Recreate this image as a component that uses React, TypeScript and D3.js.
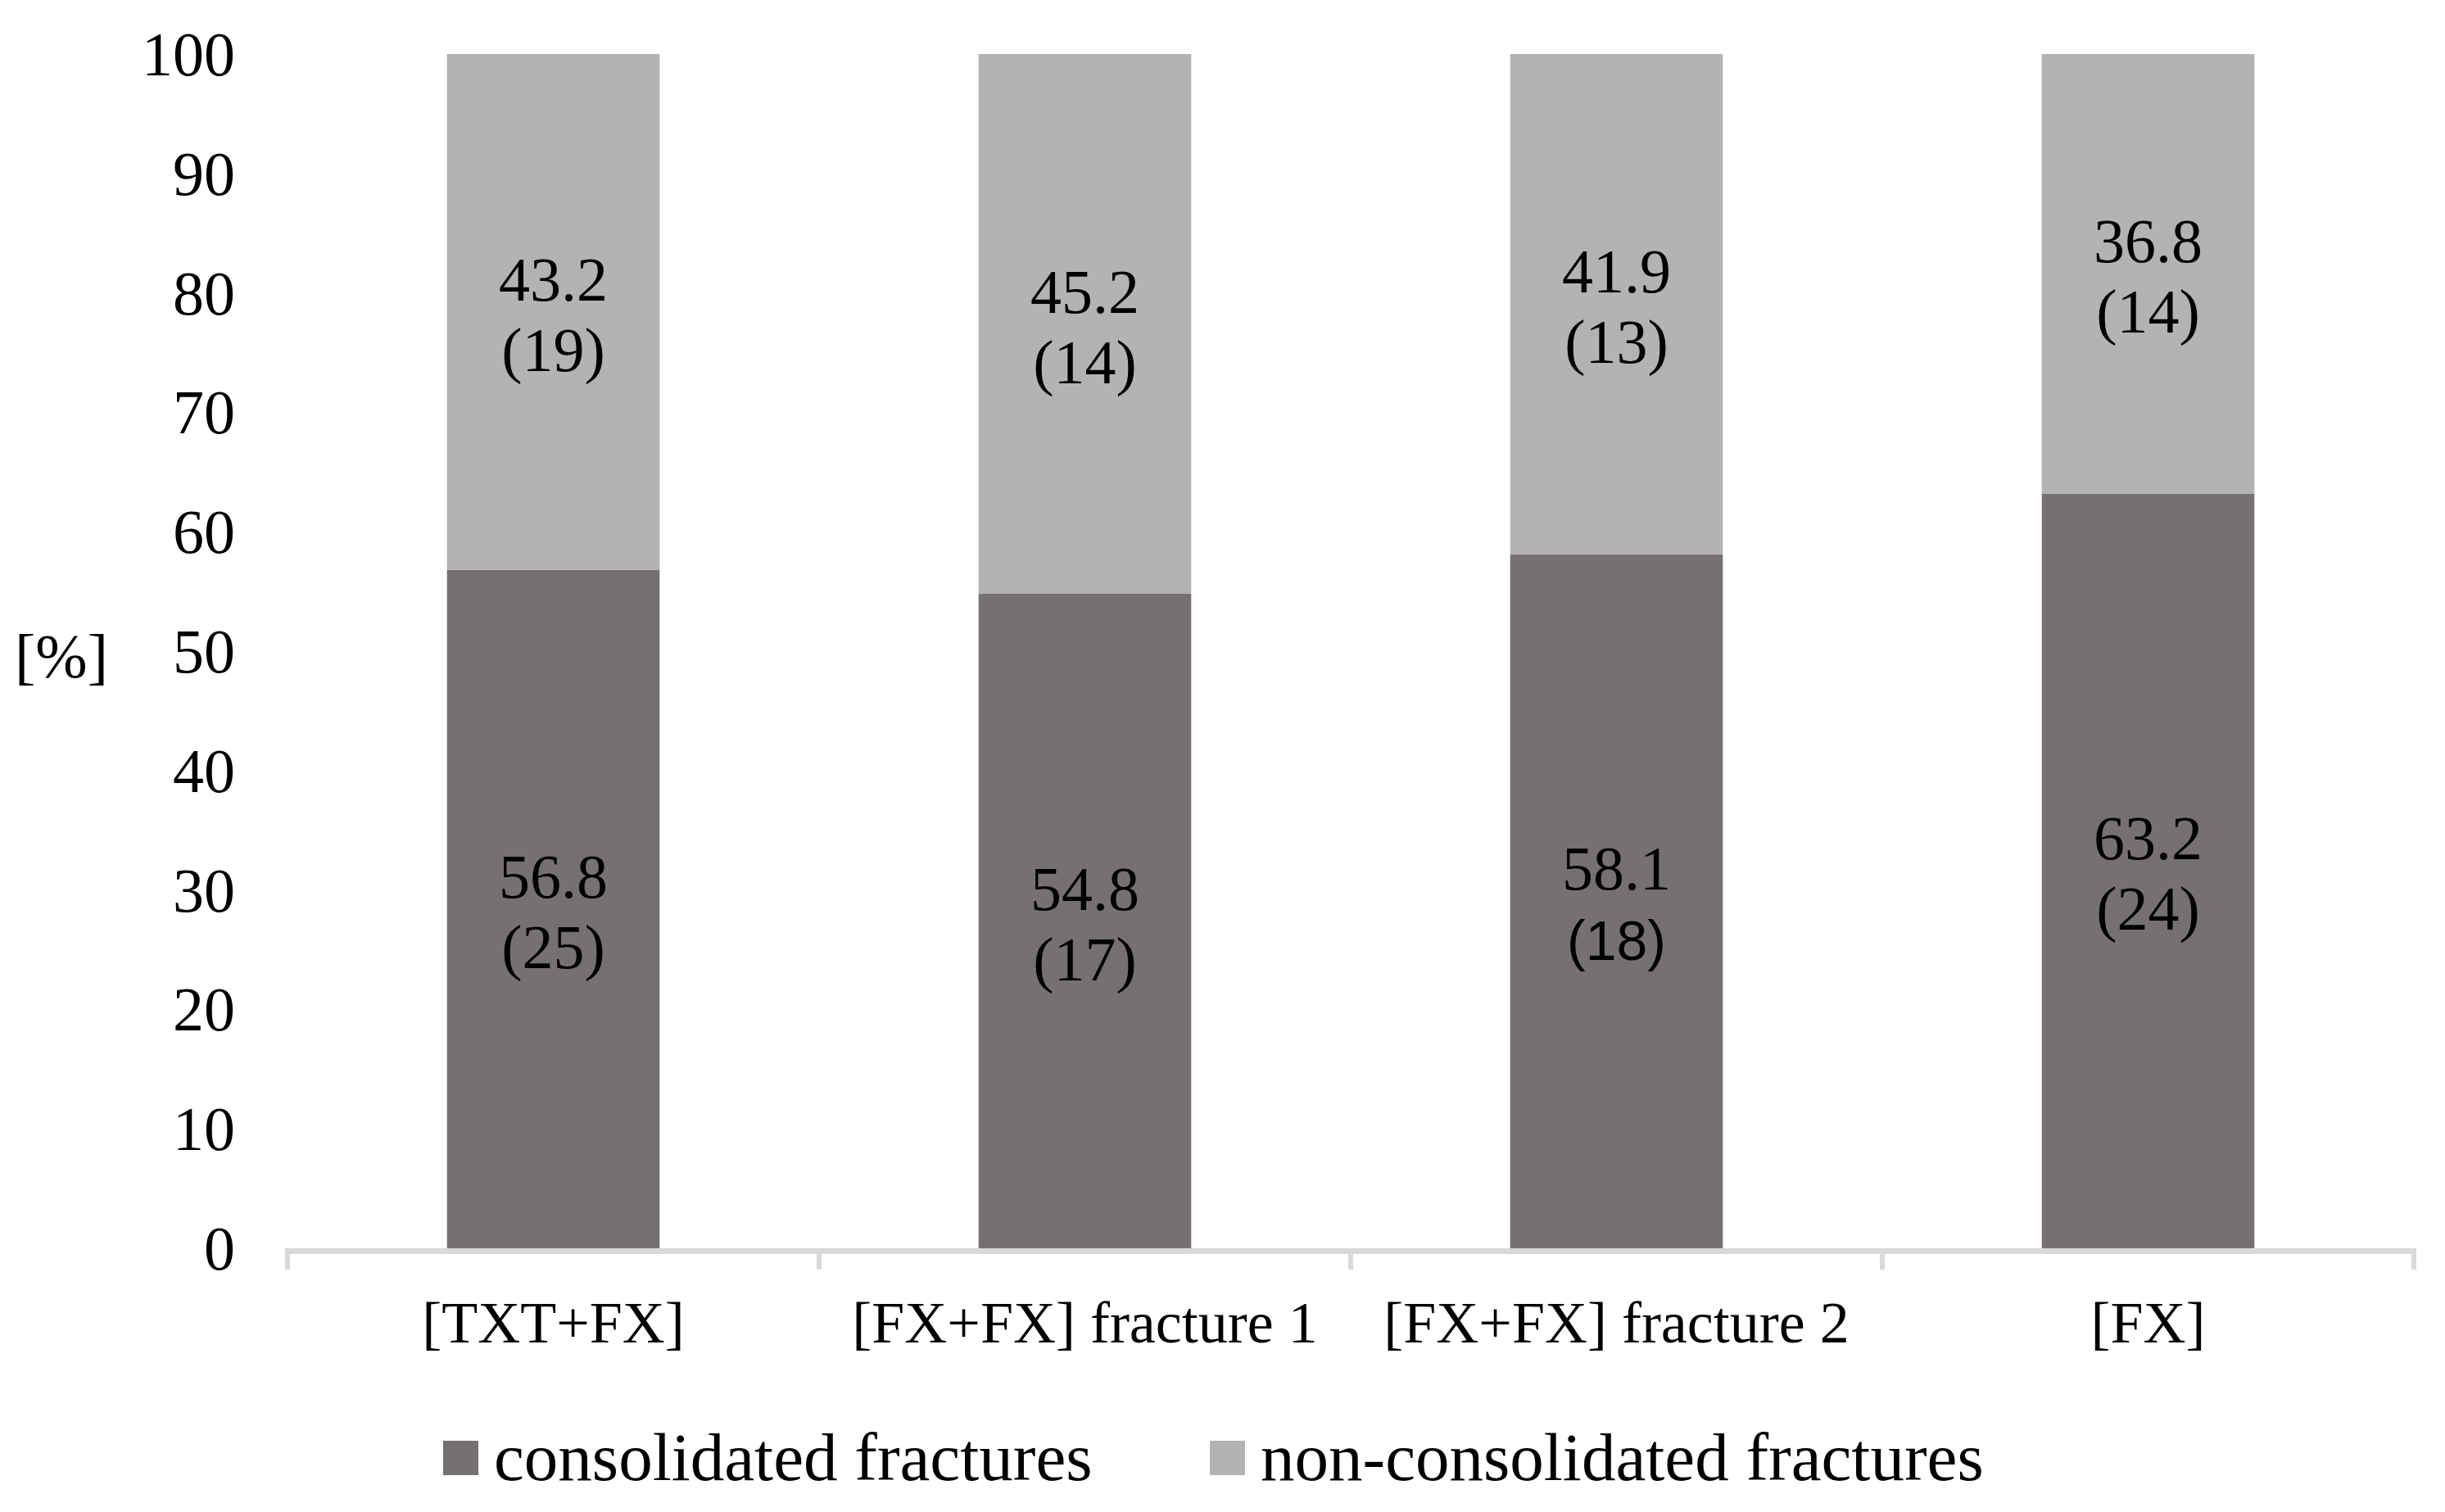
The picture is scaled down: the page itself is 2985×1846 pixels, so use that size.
import React from "react";
import * as d3 from "d3";

const categories = ["[TXT+FX]", "[FX+FX] fracture 1", "[FX+FX] fracture 2", "[FX]"];
const consolidatedPct = [56.8, 54.8, 58.1, 63.2];
const nonConsolidatedPct = [43.2, 45.2, 41.9, 36.8];
const consolidatedN = [25, 17, 18, 24];
const nonConsolidatedN = [19, 14, 13, 14];
const yTicks = [0, 10, 20, 30, 40, 50, 60, 70, 80, 90, 100];
const seriesNames = ["consolidated fractures", "non-consolidated fractures"];

const W = 2985;
const H = 1846;
const SERIF = "'Liberation Serif', 'Times New Roman', serif";
const SANS = "'Liberation Sans', Arial, sans-serif";
const DARK = "#767171";
const LIGHT = "#b3b3b3";
const AXIS = "#d9d9d9";

export default function App() {
  const x = d3
    .scaleBand<string>()
    .domain(categories)
    .range([351, 2947])
    .paddingInner(0.6)
    .paddingOuter(0.3);
  const y = d3.scaleLinear().domain([0, 100]).range([1524, 66]);
  const step = x.step();
  const bw = x.bandwidth();
  const bandEdges = d3.range(categories.length + 1).map((i) => 351 + i * step);

  const label = (
    key: string,
    cx: number,
    mid: number,
    pct: number,
    n: number,
    nFont: string,
    nSize: number
  ) => (
    <g key={key}>
      <text x={cx} y={mid - 14} textAnchor="middle" fontFamily={SERIF} fontSize={76} fill="#000">
        {pct.toFixed(1)}
      </text>
      <text x={cx} y={mid + 72} textAnchor="middle" fontFamily={nFont} fontSize={nSize} fill="#000">
        {`(${n})`}
      </text>
    </g>
  );

  return (
    <svg
      width={W}
      height={H}
      style={{ position: "absolute", left: 0, top: 0, background: "#fff" }}
      xmlns="http://www.w3.org/2000/svg"
    >
      <rect x={0} y={0} width={W} height={H} fill="#fff" />
      {/* bars */}
      {categories.map((c, i) => {
        const x0 = x(c) as number;
        const c0 = consolidatedPct[i];
        const c1 = nonConsolidatedPct[i];
        return (
          <g key={c}>
            <rect x={x0} y={y(c0)} width={bw} height={y(0) - y(c0)} fill={DARK} />
            <rect x={x0} y={y(c0 + c1)} width={bw} height={y(c0) - y(c0 + c1)} fill={LIGHT} />
          </g>
        );
      })}
      {/* axis */}
      <line x1={351 - 3} x2={2947 + 3} y1={1527.5} y2={1527.5} stroke={AXIS} strokeWidth={7} />
      {bandEdges.map((bx, i) => (
        <line key={i} x1={bx} x2={bx} y1={1527} y2={1550} stroke={AXIS} strokeWidth={6} />
      ))}
      {/* y tick labels */}
      {yTicks.map((t) => (
        <text key={t} x={287} y={y(t) + 26} textAnchor="end" fontFamily={SERIF} fontSize={76} fill="#000">
          {t}
        </text>
      ))}
      {/* y title */}
      <text x={75} y={827} textAnchor="middle" fontFamily={SERIF} fontSize={76} fill="#000">
        [%]
      </text>
      {/* category labels */}
      {categories.map((c) => (
        <text
          key={c}
          x={(x(c) as number) + bw / 2}
          y={1639}
          textAnchor="middle"
          fontFamily={SERIF}
          fontSize={72}
          fill="#000"
        >
          {c}
        </text>
      ))}
      {/* data labels */}
      {categories.map((c, i) => {
        const cx = (x(c) as number) + bw / 2;
        const c0 = consolidatedPct[i];
        const c1 = nonConsolidatedPct[i];
        const midDark = (y(0) + y(c0)) / 2;
        const midLight = (y(c0) + y(c0 + c1)) / 2;
        const sansN = i === 2;
        return (
          <g key={c}>
            {label("d" + i, cx, midDark, c0, consolidatedN[i], sansN ? SANS : SERIF, sansN ? 68 : 76)}
            {label("l" + i, cx, midLight, c1, nonConsolidatedN[i], SERIF, 76)}
          </g>
        );
      })}
      {/* legend */}
      <rect x={541} y={1759} width={43} height={42} fill={DARK} />
      <text x={603} y={1807} fontFamily={SERIF} fontSize={83} fill="#000">
        {seriesNames[0]}
      </text>
      <rect x={1477} y={1759} width={43} height={42} fill={LIGHT} />
      <text x={1539} y={1807} fontFamily={SERIF} fontSize={83} fill="#000">
        {seriesNames[1]}
      </text>
    </svg>
  );
}
